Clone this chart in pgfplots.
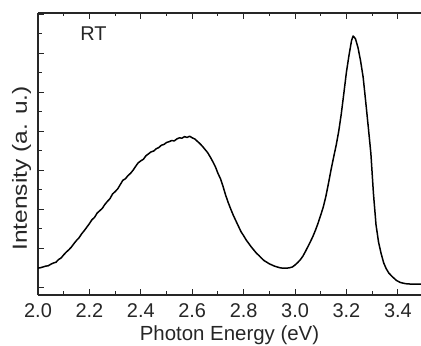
\documentclass[border=0pt]{standalone}
\usepackage{fontspec}
\setmainfont{Liberation Sans}
\usepackage{pgfplots}
\pgfplotsset{compat=1.18}
\begin{document}
\begin{tikzpicture}
\begin{axis}[
  scale only axis,
  width=383bp, height=282bp,
  at={(0,0)}, anchor=south west,
  xmin=2.0, xmax=3.49,
  ymin=-0.2, ymax=7.03,
  axis x line*=box,
  axis y line*=left,
  axis line style={line width=1.1pt, black!85},
  tick align=inside,
  xtick={2.0,2.2,...,3.4},
  minor x tick num=1,
  ytick={0,1,...,7},
  minor y tick num=1,
  yticklabels={},
  major tick length=6bp,
  minor tick length=3.5bp,
  tick style={line width=0.9pt, black!85},
  xticklabel style={/pgf/number format/fixed, /pgf/number format/fixed zerofill, /pgf/number format/precision=1, yshift=-5bp},
  /pgf/number format/assume math mode=true,
  tick label style={font=\fontsize{20}{20}\selectfont, text=black!85},
  xlabel={Photon Energy (eV)},
  ylabel={\scalebox{1.2}[1]{Intensity (a. u.)}},
  label style={font=\fontsize{20.5}{20.5}\selectfont, text=black!85},
  xlabel style={at={(axis description cs:0.5,0)}, anchor=base, yshift=-45bp},
  ylabel style={at={(axis description cs:-0.029,0.449)}, anchor=base},
  clip=true,
]
\addplot[black, line width=1.5pt, line join=round] coordinates {
(2.000,0.49) (2.010,0.50) (2.020,0.52) (2.030,0.54) (2.040,0.55) (2.050,0.59)
(2.060,0.62) (2.070,0.64) (2.080,0.71) (2.090,0.75) (2.100,0.83) (2.110,0.90)
(2.120,0.96) (2.130,1.03) (2.140,1.12) (2.150,1.20) (2.160,1.27) (2.170,1.37)
(2.180,1.45) (2.190,1.54) (2.200,1.63) (2.210,1.73) (2.220,1.79) (2.230,1.90)
(2.240,1.96) (2.250,2.02) (2.260,2.12) (2.270,2.20) (2.280,2.27) (2.290,2.39)
(2.300,2.45) (2.310,2.52) (2.320,2.63) (2.330,2.74) (2.340,2.78) (2.350,2.86)
(2.360,2.92) (2.370,3.00) (2.380,3.10) (2.390,3.19) (2.400,3.24) (2.410,3.28)
(2.420,3.37) (2.430,3.42) (2.440,3.47) (2.450,3.49) (2.460,3.55) (2.470,3.58)
(2.480,3.64) (2.490,3.66) (2.500,3.71) (2.510,3.73) (2.520,3.76) (2.530,3.75)
(2.540,3.80) (2.550,3.83) (2.560,3.82) (2.570,3.86) (2.580,3.84) (2.590,3.87)
(2.600,3.83) (2.610,3.80) (2.620,3.74) (2.630,3.68) (2.640,3.61) (2.650,3.53)
(2.660,3.45) (2.670,3.34) (2.680,3.22) (2.690,3.09) (2.700,2.92) (2.710,2.78)
(2.720,2.58) (2.730,2.36) (2.740,2.17) (2.750,2.00) (2.760,1.84) (2.770,1.70)
(2.780,1.56) (2.790,1.42) (2.800,1.32) (2.810,1.21) (2.820,1.12) (2.830,1.03)
(2.840,0.95) (2.850,0.87) (2.860,0.81) (2.870,0.74) (2.880,0.68) (2.890,0.64)
(2.900,0.60) (2.910,0.57) (2.920,0.54) (2.930,0.52) (2.940,0.50) (2.950,0.49)
(2.960,0.49) (2.970,0.49) (2.980,0.50) (2.990,0.52) (3.000,0.57) (3.010,0.63)
(3.020,0.70) (3.030,0.79) (3.040,0.91) (3.050,1.04) (3.060,1.17) (3.070,1.31)
(3.080,1.47) (3.090,1.65) (3.100,1.85) (3.110,2.06) (3.120,2.33) (3.130,2.66)
(3.140,3.01) (3.150,3.33) (3.160,3.64) (3.170,4.00) (3.180,4.45) (3.190,4.98)
(3.200,5.52) (3.210,5.95) (3.220,6.33) (3.226,6.44) (3.235,6.37) (3.245,6.14)
(3.255,5.80) (3.265,5.38) (3.275,4.75) (3.285,4.10) (3.295,3.43) (3.305,2.40)
(3.315,1.60) (3.325,1.15) (3.335,0.86) (3.345,0.62) (3.355,0.47) (3.365,0.36)
(3.380,0.26) (3.395,0.17) (3.410,0.12) (3.430,0.09) (3.450,0.08) (3.470,0.08)
(3.490,0.08)
};
\node[anchor=base, font=\fontsize{20}{20}\selectfont, text=black!85] at (rel axis cs:0.145,0.904) {RT};
\end{axis}
\pgfresetboundingbox
\useasboundingbox (-38bp,-51bp) rectangle (383bp,295bp);
\end{tikzpicture}
\end{document}
